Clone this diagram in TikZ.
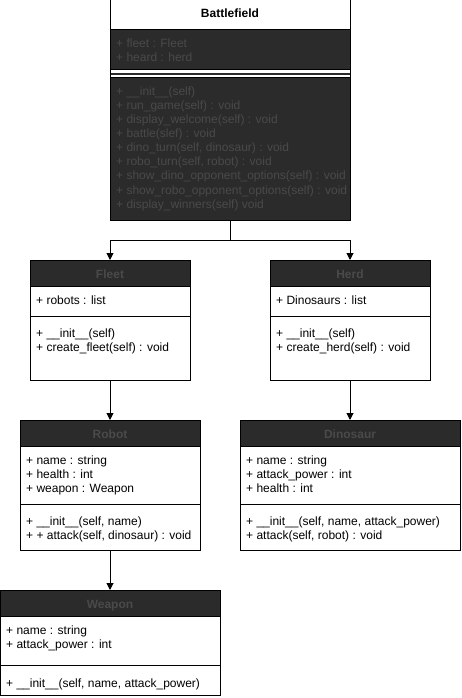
\documentclass[tikz,border=0pt]{standalone}
\usepackage{fontspec}
\setmainfont{Liberation Sans}
\usetikzlibrary{arrows.meta}
\definecolor{dk}{HTML}{2B2B2B}
\definecolor{dtxt}{HTML}{4A4A4A}
\tikzset{
  txt/.style={anchor=base west, inner sep=0pt, font=\fontsize{12}{14}\selectfont},
  dtx/.style={txt, text=dtxt},
  ltx/.style={txt, text=black},
  hdr/.style={anchor=base, inner sep=0pt, font=\fontsize{12}{14}\selectfont\bfseries},
  cls/.style={draw=black, line width=1pt, anchor=north west, inner sep=0pt, outer sep=0pt},
  sepl/.style={draw=black, line width=1pt},
  conn/.style={draw=black, line width=1pt},
  arr/.style={conn, -{Triangle[length=7pt,width=7pt]}},
}
\begin{document}
\begin{tikzpicture}[x=1pt,y=-1pt]
\useasboundingbox (0,0) rectangle (461,698);
\fill[white] (0,0) rectangle (461,698);

% ---------- Battlefield ----------
\fill[dk] (110,30) rectangle (350,220);
\fill[white] (110,70) rectangle (350,78);
\draw[sepl] (110,30) -- (350,30);
\draw[sepl] (110,70) -- (350,70);
\draw[sepl] (110,78) -- (350,78);
\draw[dk, line width=1.5pt] (110,74) -- (350,74);
\node[cls, minimum width=240pt, minimum height=220pt] (bf) at (110,0) {};
\node[hdr, text=black] at (230,18) {Battlefield};
\node[dtx] at (116,47.5) {+ fleet : Fleet};
\node[dtx] at (116,62) {+ heard : herd};
\node[dtx] at (116,95.3) {+ \_\_init\_\_(self)};
\node[dtx] at (116,109.4) {+ run\_game(self) : void};
\node[dtx] at (116,123.5) {+ display\_welcome(self) : void};
\node[dtx] at (116,137.6) {+ battle(slef) : void};
\node[dtx] at (116,151.7) {+ dino\_turn(self, dinosaur) : void};
\node[dtx] at (116,165.8) {+ robo\_turn(self, robot) : void};
\node[dtx] at (116,179.9) {+ show\_dino\_opponent\_options(self) : void};
\node[dtx] at (116,194.0) {+ show\_robo\_opponent\_options(self) : void};
\node[dtx] at (116,208.1) {+ display\_winners(self) void};

% ---------- Fleet ----------
\fill[dk] (30,260) rectangle (190,286);
\draw[sepl] (30,286) -- (190,286);
\draw[sepl] (30,316) -- (190,316);
\node[cls, minimum width=160pt, minimum height=120pt] (fleet) at (30,260) {};
\node[hdr, text=dtxt] at (110,278) {Fleet};
\node[ltx] at (36,304) {+ robots : list};
\node[ltx] at (36,337.3) {+ \_\_init\_\_(self)};
\node[ltx] at (36,351.2) {+ create\_fleet(self) : void};

% ---------- Herd ----------
\fill[dk] (270,260) rectangle (430,286);
\draw[sepl] (270,286) -- (430,286);
\draw[sepl] (270,316) -- (430,316);
\node[cls, minimum width=160pt, minimum height=120pt] (herd) at (270,260) {};
\node[hdr, text=dtxt] at (350,278) {Herd};
\node[ltx] at (276,304) {+ Dinosaurs : list};
\node[ltx] at (276,337.3) {+ \_\_init\_\_(self)};
\node[ltx] at (276,351.2) {+ create\_herd(self) : void};

% ---------- Robot ----------
\fill[dk] (20,420) rectangle (200,446);
\draw[sepl] (20,446) -- (200,446);
\draw[sepl] (20,504) -- (200,504);
\node[cls, minimum width=180pt, minimum height=130pt] (robot) at (20,420) {};
\node[hdr, text=dtxt] at (110,438) {Robot};
\node[ltx] at (26,464) {+ name : string};
\node[ltx] at (26,478) {+ health : int};
\node[ltx] at (26,492) {+ weapon : Weapon};
\node[ltx] at (26,525.7) {+ \_\_init\_\_(self, name)};
\node[ltx] at (26,539.5) {+ + attack(self, dinosaur) : void};

% ---------- Dinosaur ----------
\fill[dk] (240,420) rectangle (460,446);
\draw[sepl] (240,446) -- (460,446);
\draw[sepl] (240,504) -- (460,504);
\node[cls, minimum width=220pt, minimum height=130pt] (dino) at (240,420) {};
\node[hdr, text=dtxt] at (350,438) {Dinosaur};
\node[ltx] at (246,464) {+ name : string};
\node[ltx] at (246,478) {+ attack\_power : int};
\node[ltx] at (246,492) {+ health : int};
\node[ltx] at (246,525.7) {+ \_\_init\_\_(self, name, attack\_power)};
\node[ltx] at (246,539.5) {+ attack(self, robot) : void};

% ---------- Weapon ----------
\fill[dk] (0,590) rectangle (220,616);
\draw[sepl] (0,616) -- (220,616);
\draw[sepl] (0,665) -- (220,665);
\node[cls, minimum width=220pt, minimum height=105pt] (weapon) at (0,590) {};
\node[hdr, text=dtxt] at (110,608) {Weapon};
\node[ltx] at (6,634) {+ name : string};
\node[ltx] at (6,648) {+ attack\_power : int};
\node[ltx] at (6,687.3) {+ \_\_init\_\_(self, name, attack\_power)};

% ---------- Connectors ----------
\coordinate (j) at (230,240);
\draw[conn] (bf.south) -- (j);
\draw[arr] (j) -| (fleet.north);
\draw[arr] (j) -| (herd.north);
\draw[arr] (fleet.south) -- (robot.north);
\draw[arr] (herd.south) -- (dino.north);
\draw[arr] (robot.south) -- (weapon.north);
\end{tikzpicture}
\end{document}
